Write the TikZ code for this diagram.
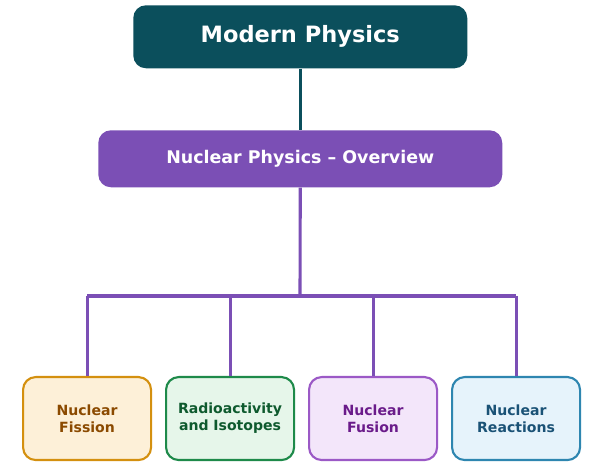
\documentclass[tikz,border=0pt]{standalone}
\usepackage{fontspec}
\setmainfont{DejaVu Sans}
\begin{document}
\begin{tikzpicture}[x=0.025cm,y=-0.025cm,
 box/.style={rounded corners=9pt,draw,line width=1.5pt,align=center,font=\bfseries\fontsize{10}{12}\selectfont,minimum width=128*0.025cm,minimum height=83*0.025cm,anchor=north west,inner sep=2pt},
 conn/.style={draw=purp,line width=2.2pt}]
\definecolor{teal1}{HTML}{0B4F5C}
\definecolor{purp}{HTML}{7B4FB5}
\useasboundingbox (0,0) rectangle (600,465);
\node[fill=teal1,rounded corners=9pt,minimum width=334*0.025cm,minimum height=63*0.025cm,anchor=north west,text=white,font=\bfseries\fontsize{16}{19}\selectfont] (top) at (133,5) {Modern Physics};
\node[fill=purp,rounded corners=9pt,minimum width=404*0.025cm,minimum height=57*0.025cm,anchor=north west,text=white,font=\bfseries\fontsize{12.4}{15}\selectfont] (np) at (98,130) {Nuclear Physics – Overview};
\node[box,draw={rgb,255:red,212;green,144;blue,15},fill={rgb,255:red,253;green,240;blue,216},text={rgb,255:red,139;green,74;blue,0}] (a) at (22,376) {Nuclear\\Fission};
\node[box,draw={rgb,255:red,30;green,138;blue,74},fill={rgb,255:red,230;green,246;blue,234},text={rgb,255:red,14;green,90;blue,46}] (b) at (165,376) {Radioactivity\\and Isotopes};
\node[box,draw={rgb,255:red,155;green,89;blue,198},fill={rgb,255:red,243;green,230;blue,250},text={rgb,255:red,106;green,27;blue,138}] (c) at (308,376) {Nuclear\\Fusion};
\node[box,draw={rgb,255:red,46;green,134;blue,176},fill={rgb,255:red,230;green,243;blue,251},text={rgb,255:red,26;green,82;blue,118}] (d) at (451,376) {Nuclear\\Reactions};
\coordinate (bus) at (300,296);
\draw[line width=2.2pt,teal1] (top.south) -- (np.north);
\draw[conn] (np.south) -- (bus);
\draw[conn] (a.north |- bus) -- (d.north |- bus);
\foreach \n in {a,b,c,d} \draw[conn] (\n.north |- bus) -- (\n.north);
\end{tikzpicture}
\end{document}
